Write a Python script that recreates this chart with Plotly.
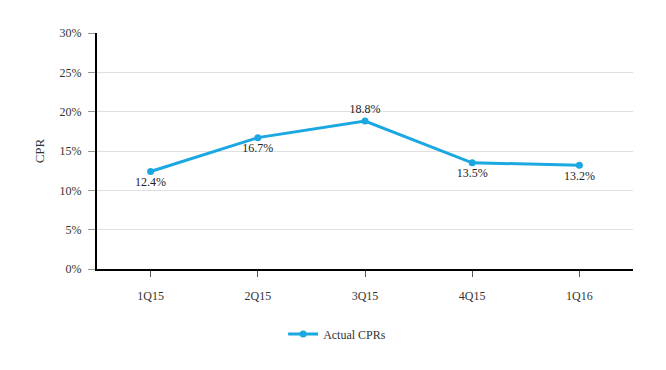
import plotly.graph_objects as go

categories = ["1Q15", "2Q15", "3Q15", "4Q15", "1Q16"]
cpr_values = [12.4, 16.7, 18.8, 13.5, 13.2]
label_positions = ["bottom center", "bottom center", "top center", "bottom center", "bottom center"]
y_ticks = [0, 5, 10, 15, 20, 25, 30]
y_tick_labels = ["0%", "5%", "10%", "15%", "20%", "25%", "30%"]

color = "#1BA7E1"
font_family = "Times New Roman, Liberation Serif, DejaVu Serif, serif"

fig = go.Figure()
fig.add_trace(go.Scatter(
    x=categories, y=cpr_values, mode="lines+markers+text",
    name="Actual CPRs",
    line=dict(color=color, width=3),
    marker=dict(color=color, size=7),
    text=[f"{v:.1f}%" for v in cpr_values],
    textposition=label_positions,
    textfont=dict(family=font_family, size=12, color="#222222"),
    cliponaxis=False,
))

fig.update_layout(
    width=658, height=362,
    margin=dict(l=89, r=33, t=25, b=101),
    paper_bgcolor="white", plot_bgcolor="white",
    font=dict(family=font_family, size=12, color="#333333"),
    showlegend=True,
    legend=dict(orientation="h", x=0.448, xanchor="center", y=-0.275, yanchor="middle",
                font=dict(family=font_family, size=12, color="#333333")),
    xaxis=dict(
        type="category", range=[-0.5, 4.5], automargin=False,
        showline=True, linecolor="#000000", linewidth=2,
        ticks="outside", ticklen=6, tickcolor="#555555", tickwidth=1,
        showgrid=False, zeroline=False,
        tickfont=dict(family=font_family, size=12, color="#333333"),
        ticklabelstandoff=9,
    ),
    yaxis=dict(
        range=[0, 30], tickvals=y_ticks, ticktext=y_tick_labels, automargin=False,
        showline=True, linecolor="#000000", linewidth=2,
        ticks="outside", ticklen=7, tickcolor="#999999", tickwidth=1,
        showgrid=True, gridcolor="#E0E0E0", gridwidth=1, zeroline=False,
        tickfont=dict(family=font_family, size=12, color="#333333"),
        ticklabelstandoff=4,
        title=dict(text="CPR", font=dict(family=font_family, size=13, color="#333333"), standoff=12),
    ),
)

fig.write_html("out.html")
